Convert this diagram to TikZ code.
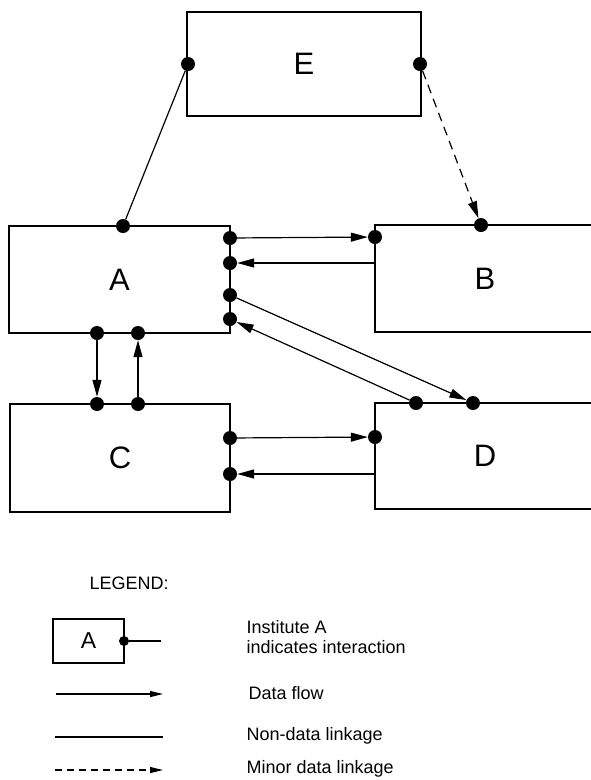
\documentclass[tikz,border=0pt]{standalone}
\usepackage{fontspec}
\setmainfont{Liberation Sans}
\usepackage{tikz}
\usetikzlibrary{arrows.meta,calc}
\tikzset{inst/.style={draw, line width=2.2pt, inner sep=0pt, font=\fontsize{31}{33}\selectfont}}
\tikzset{port/.style={circle, fill, inner sep=0pt, minimum size=14pt}}
\tikzset{legtext/.style={anchor=west, align=left, font=\fontsize{18}{20}\selectfont}}
\tikzset{
  edgeflow/.style={line width=1.2pt, -{Triangle[length=17pt,width=9pt]}},
  edgelink/.style={line width=1.2pt},
  edgeminor/.style={line width=1.2pt, dash pattern=on 9pt off 6pt, -{Triangle[length=17pt,width=9pt]}}
}

\begin{document}
\begin{tikzpicture}[x=1pt,y=-1pt]
\useasboundingbox (0,0) rectangle (591,780);
\clip (0,0) rectangle (591,780);

% institutes
\node[inst, minimum width=234pt, minimum height=104pt](E) at (304,64) {E};
\node[inst, minimum width=221pt, minimum height=107pt](A) at (119.5,279.5) {A};
\node[inst, minimum width=220pt, minimum height=107pt](B) at (485,278.5) {B};
\node[inst, minimum width=220pt, minimum height=108pt](C) at (120,458) {C};
\node[inst, minimum width=220pt, minimum height=106pt](D) at (485,456) {D};

% interaction points
\node[port](e-l) at (188,64) {};
\node[port](e-r) at (420,64) {};
\node[port](a-t) at (123,226) {};
\node[port](a-r1) at (230,238) {};
\node[port](a-r2) at (230,263) {};
\node[port](a-r3) at (230,295) {};
\node[port](a-r4) at (230,319) {};
\node[port](a-b1) at (97,333) {};
\node[port](a-b2) at (138,333) {};
\node[port](b-l) at (375,237) {};
\node[port](b-t) at (481,225) {};
\node[port](c-t1) at (97,404) {};
\node[port](c-t2) at (138,404) {};
\node[port](c-r1) at (230,438) {};
\node[port](c-r2) at (230,474) {};
\node[port](d-l) at (375,437) {};
\node[port](d-t1) at (416,403) {};
\node[port](d-t2) at (473,403) {};
\coordinate (b-in) at (B.west |- a-r2);
\coordinate (d-in) at (D.west |- c-r2);

% links
\draw[edgelink] (e-l) -- (a-t);
\draw[edgeminor] (e-r) -- (b-t);
\draw[edgeflow] (a-r1) -- (b-l);
\draw[edgeflow] (b-in) -- (a-r2);
\draw[edgeflow] (a-r3) -- (d-t2);
\draw[edgeflow] (d-t1) -- (a-r4);
\draw[edgeflow] (a-b1) -- (c-t1);
\draw[edgeflow] (c-t2) -- (a-b2);
\draw[edgeflow] (c-r1) -- (d-l);
\draw[edgeflow] (d-in) -- (c-r2);

% legend
\node[legtext](leg) at (86,583) {LEGEND:};
\node[inst, line width=1.8pt, minimum width=71pt, minimum height=44pt, font=\fontsize{23}{25}\selectfont](lbox) at (88.5,641) {A};
\node[port, minimum size=10pt](lport) at (124,641) {};
\coordinate (lport-end) at (161,641);
\draw[edgelink] (lport) -- (lport-end);
\node[legtext](ltext1) at (243,637) {Institute A\\indicates interaction};

\coordinate (lf-a) at (56,694);
\coordinate (lf-b) at (163,694);
\draw[edgeflow, -{Triangle[length=13pt,width=6pt]}] (lf-a) -- (lf-b);
\node[legtext](ltext2) at (245,693) {Data flow};

\coordinate (ll-a) at (55,737);
\coordinate (ll-b) at (163,737);
\draw[edgelink] (ll-a) -- (ll-b);
\node[legtext](ltext3) at (243,736) {Non-data linkage};

\coordinate (lm-a) at (55,770);
\coordinate (lm-b) at (163,770);
\draw[edgeminor, dash pattern=on 7pt off 5pt, -{Triangle[length=13pt,width=6pt]}] (lm-a) -- (lm-b);
\node[legtext](ltext4) at (243,769) {Minor data linkage};
\end{tikzpicture}
\end{document}
